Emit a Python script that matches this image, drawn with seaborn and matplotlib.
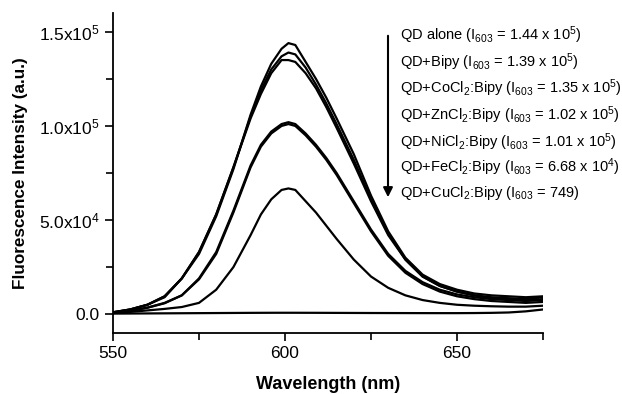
import numpy as np
import pandas as pd
import matplotlib
matplotlib.use("Agg")
import matplotlib.pyplot as plt
import seaborn as sns

# wavelengths (nm), denser near the peak
wavelength = [550, 555, 560, 565, 570, 575, 580, 585, 590, 593, 596, 599, 601, 603, 606,
              609, 612, 615, 620, 625, 630, 635, 640, 645, 650, 655, 660, 665, 670, 675]

qd_alone = [1.0e3, 2.5e3, 5e3, 9e3, 1.9e4, 3.2e4, 5.2e4, 7.7e4, 1.06e5, 1.21e5, 1.33e5, 1.41e5, 1.44e5, 1.43e5, 1.34e5,
            1.25e5, 1.15e5, 1.04e5, 8.5e4, 6.3e4, 4.4e4, 3.0e4, 2.1e4, 1.6e4, 1.3e4, 1.1e4, 1.0e4, 9.5e3, 9e3, 9.5e3]
qd_bipy = [1.0e3, 2.5e3, 5e3, 9.5e3, 1.9e4, 3.3e4, 5.3e4, 7.8e4, 1.05e5, 1.19e5, 1.30e5, 1.37e5, 1.39e5, 1.38e5, 1.31e5,
           1.22e5, 1.12e5, 1.01e5, 8.2e4, 6.1e4, 4.3e4, 2.9e4, 2.0e4, 1.5e4, 1.2e4, 1.0e4, 9e3, 8.5e3, 8e3, 9e3]
qd_co = [1.0e3, 2.5e3, 5e3, 9.5e3, 1.9e4, 3.3e4, 5.3e4, 7.8e4, 1.04e5, 1.17e5, 1.28e5, 1.35e5, 1.35e5, 1.34e5, 1.28e5,
         1.20e5, 1.10e5, 9.9e4, 8.0e4, 6.0e4, 4.2e4, 2.9e4, 2.0e4, 1.5e4, 1.2e4, 1.0e4, 8.5e3, 8e3, 7.5e3, 8e3]
qd_zn = [800, 1.8e3, 3.5e3, 6e3, 1.0e4, 1.9e4, 3.3e4, 5.5e4, 7.9e4, 9.0e4, 9.7e4, 1.01e5, 1.02e5, 1.01e5, 9.6e4,
         9.0e4, 8.3e4, 7.5e4, 6.0e4, 4.5e4, 3.2e4, 2.3e4, 1.7e4, 1.3e4, 1.05e4, 9e3, 8e3, 7.5e3, 7e3, 7.5e3]
qd_ni = [800, 1.8e3, 3.4e3, 5.8e3, 1.0e4, 1.85e4, 3.2e4, 5.4e4, 7.8e4, 8.9e4, 9.6e4, 1.00e5, 1.01e5, 1.00e5, 9.5e4,
         8.9e4, 8.2e4, 7.4e4, 5.9e4, 4.4e4, 3.1e4, 2.2e4, 1.6e4, 1.2e4, 9.5e3, 8e3, 7e3, 6.5e3, 6e3, 6.5e3]
qd_fe = [600, 1.2e3, 2e3, 2.8e3, 3.8e3, 6e3, 1.3e4, 2.5e4, 4.2e4, 5.3e4, 6.1e4, 6.6e4, 6.68e4, 6.6e4, 6.0e4,
         5.4e4, 4.7e4, 4.0e4, 2.9e4, 2.0e4, 1.4e4, 1.0e4, 7.5e3, 6e3, 5e3, 4.5e3, 4.2e3, 4e3, 4e3, 4.5e3]
qd_cu = [300, 350, 400, 450, 500, 550, 600, 650, 700, 720, 740, 749, 749, 745, 730,
         720, 700, 680, 650, 620, 600, 580, 560, 550, 550, 600, 700, 900, 1.5e3, 2.5e3]

labels = [
    r"QD alone (I$_{603}$ = 1.44 x 10$^{5}$)",
    r"QD+Bipy (I$_{603}$ = 1.39 x 10$^{5}$)",
    r"QD+CoCl$_{2}$:Bipy (I$_{603}$ = 1.35 x 10$^{5}$)",
    r"QD+ZnCl$_{2}$:Bipy (I$_{603}$ = 1.02 x 10$^{5}$)",
    r"QD+NiCl$_{2}$:Bipy (I$_{603}$ = 1.01 x 10$^{5}$)",
    r"QD+FeCl$_{2}$:Bipy (I$_{603}$ = 6.68 x 10$^{4}$)",
    r"QD+CuCl$_{2}$:Bipy (I$_{603}$ = 749)",
]
series = [qd_alone, qd_bipy, qd_co, qd_zn, qd_ni, qd_fe, qd_cu]

y_ticks = [0, 5e4, 1e5, 1.5e5]
y_ticklabels = ["0.0", r"5.0x10$^{4}$", r"1.0x10$^{5}$", r"1.5x10$^{5}$"]
x_ticks = [550, 600, 650]

rows = []
for name, vals in zip(labels, series):
    for w, v in zip(wavelength, vals):
        rows.append({"wl": w, "I": v, "sample": name})
df = pd.DataFrame(rows)

sns.set_style("ticks")
plt.rcParams["font.family"] = ["Liberation Sans", "DejaVu Sans"]
plt.rcParams["mathtext.fontset"] = "custom"
plt.rcParams["mathtext.rm"] = "Liberation Sans"
plt.rcParams["mathtext.it"] = "Liberation Sans:italic"
plt.rcParams["mathtext.bf"] = "Liberation Sans:bold"
plt.rcParams["text.color"] = "black"
plt.rcParams["axes.labelcolor"] = "black"
plt.rcParams["xtick.color"] = "black"
plt.rcParams["ytick.color"] = "black"

fig = plt.figure(figsize=(6.22, 3.94), dpi=100)
ax = fig.add_axes([113 / 622, 1 - 333 / 394, 430 / 622, 320 / 394])

sns.lineplot(data=df, x="wl", y="I", units="sample", estimator=None,
             color="black", lw=1.6, ax=ax, sort=False)

ax.set_xlim(550, 675)
ax.set_ylim(-1e4, 1.6e5)
ax.set_xticks(x_ticks)
ax.set_xticks([575, 625, 675], minor=True)
ax.set_yticks(y_ticks)
ax.set_yticklabels(y_ticklabels)
ax.set_yticks([2.5e4, 7.5e4, 1.25e5], minor=True)
ax.tick_params(which="major", direction="out", length=6, width=1.2, labelsize=12.5)
ax.tick_params(which="minor", direction="out", length=5, width=1.2)
for s in ["left", "bottom"]:
    ax.spines[s].set_linewidth(1.3)
    ax.spines[s].set_color("black")
sns.despine(ax=ax)

ax.set_xlabel("Wavelength (nm)", fontsize=13, fontweight="bold", labelpad=11)
ax.set_ylabel("Fluorescence Intensity (a.u.)", fontsize=12.3, fontweight="bold", labelpad=8)

# legend text block with arrow
line_y = [35, 62, 88, 115, 142, 167, 193]
for lab, py in zip(labels, line_y):
    fig.text(400 / 622, 1 - py / 394, lab, fontsize=10.5, va="center", ha="left")
ax.annotate("", xy=(388 / 622, 1 - 200 / 394), xytext=(388 / 622, 1 - 33 / 394),
            xycoords="figure fraction", textcoords="figure fraction",
            arrowprops=dict(arrowstyle="-|>", color="black", lw=1.5, mutation_scale=14))

fig.savefig("out.png", dpi=100)
